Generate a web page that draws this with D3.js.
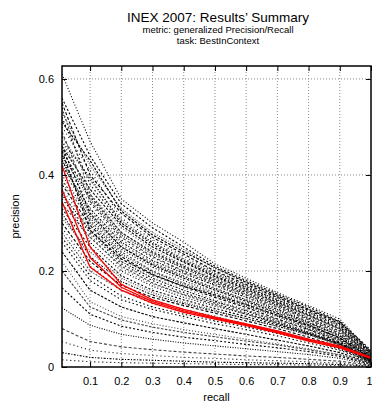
<!DOCTYPE html>
<html>
<head>
<meta charset="utf-8">
<script src="https://cdn.jsdelivr.net/npm/d3@7"></script>
<style>
  html, body { margin: 0; padding: 0; background: #fff; }
  svg { display: block; font-family: "Liberation Sans", Arial, sans-serif; }
</style>
</head>
<body>
<svg id="chart" width="372" height="406"></svg>
<script>
// recall points shared by every run
const recall = [0.01, 0.1, 0.2, 0.3, 0.4, 0.5, 0.6, 0.7, 0.8, 0.9, 1.0];

// submitted runs (precision at each recall point)
const runs = [
  [0.61, 0.47, 0.35, 0.30, 0.26, 0.215, 0.185, 0.155, 0.128, 0.10, 0.03],
  [0.56, 0.44, 0.34, 0.29, 0.25, 0.21, 0.18, 0.152, 0.125, 0.095, 0.035],
  [0.53, 0.42, 0.33, 0.28, 0.245, 0.205, 0.178, 0.15, 0.122, 0.092, 0.03],
  [0.55, 0.40, 0.32, 0.27, 0.235, 0.20, 0.172, 0.145, 0.118, 0.09, 0.028],
  [0.50, 0.41, 0.31, 0.265, 0.23, 0.198, 0.17, 0.143, 0.115, 0.088, 0.03],
  [0.48, 0.39, 0.305, 0.26, 0.225, 0.195, 0.168, 0.14, 0.113, 0.085, 0.025],
  [0.52, 0.38, 0.30, 0.255, 0.22, 0.19, 0.165, 0.138, 0.11, 0.083, 0.027],
  [0.46, 0.37, 0.295, 0.25, 0.218, 0.188, 0.162, 0.135, 0.108, 0.08, 0.022],
  [0.47, 0.36, 0.29, 0.245, 0.212, 0.185, 0.16, 0.132, 0.105, 0.078, 0.02],
  [0.45, 0.355, 0.28, 0.24, 0.21, 0.18, 0.155, 0.13, 0.102, 0.075, 0.024],
  [0.44, 0.35, 0.275, 0.235, 0.205, 0.178, 0.152, 0.128, 0.10, 0.072, 0.02],
  [0.49, 0.345, 0.27, 0.23, 0.20, 0.175, 0.15, 0.125, 0.098, 0.07, 0.022],
  [0.43, 0.34, 0.265, 0.228, 0.198, 0.172, 0.148, 0.122, 0.095, 0.068, 0.018],
  [0.42, 0.33, 0.26, 0.222, 0.195, 0.17, 0.145, 0.12, 0.093, 0.065, 0.02],
  [0.41, 0.325, 0.255, 0.218, 0.19, 0.165, 0.14, 0.115, 0.09, 0.062, 0.017],
  [0.46, 0.32, 0.25, 0.212, 0.185, 0.16, 0.137, 0.112, 0.088, 0.06, 0.018],
  [0.40, 0.31, 0.245, 0.208, 0.18, 0.155, 0.133, 0.11, 0.085, 0.058, 0.015],
  [0.39, 0.305, 0.24, 0.20, 0.175, 0.152, 0.13, 0.107, 0.083, 0.056, 0.016],
  [0.44, 0.30, 0.235, 0.198, 0.172, 0.148, 0.127, 0.105, 0.08, 0.055, 0.014],
  [0.38, 0.295, 0.23, 0.193, 0.168, 0.145, 0.124, 0.10, 0.078, 0.052, 0.015],
  [0.37, 0.29, 0.225, 0.19, 0.165, 0.14, 0.12, 0.098, 0.075, 0.05, 0.012],
  [0.36, 0.285, 0.22, 0.185, 0.16, 0.137, 0.117, 0.095, 0.072, 0.048, 0.014],
  [0.35, 0.28, 0.215, 0.18, 0.155, 0.133, 0.113, 0.092, 0.07, 0.046, 0.012],
  [0.34, 0.27, 0.21, 0.175, 0.15, 0.13, 0.11, 0.09, 0.068, 0.045, 0.01],
  [0.36, 0.26, 0.20, 0.168, 0.145, 0.127, 0.11, 0.092, 0.072, 0.05, 0.014],
  [0.33, 0.25, 0.19, 0.16, 0.14, 0.122, 0.105, 0.088, 0.07, 0.05, 0.015],
  [0.31, 0.24, 0.185, 0.155, 0.135, 0.118, 0.10, 0.085, 0.066, 0.047, 0.013],
  [0.30, 0.22, 0.17, 0.145, 0.128, 0.112, 0.096, 0.08, 0.062, 0.042, 0.012],
  [0.29, 0.21, 0.16, 0.132, 0.115, 0.10, 0.086, 0.072, 0.056, 0.038, 0.01],
  [0.28, 0.20, 0.16, 0.138, 0.12, 0.105, 0.09, 0.075, 0.058, 0.04, 0.01],
  [0.26, 0.18, 0.14, 0.12, 0.105, 0.09, 0.078, 0.065, 0.05, 0.035, 0.01],
  [0.24, 0.16, 0.125, 0.105, 0.092, 0.08, 0.068, 0.056, 0.044, 0.03, 0.008],
  [0.22, 0.136, 0.105, 0.09, 0.078, 0.068, 0.058, 0.048, 0.038, 0.026, 0.008],
  [0.165, 0.11, 0.085, 0.072, 0.062, 0.055, 0.047, 0.04, 0.032, 0.022, 0.006],
  [0.123, 0.087, 0.068, 0.058, 0.05, 0.044, 0.038, 0.032, 0.026, 0.018, 0.005],
  [0.08, 0.053, 0.042, 0.036, 0.031, 0.027, 0.023, 0.02, 0.016, 0.012, 0.004],
  [0.053, 0.035, 0.028, 0.024, 0.02, 0.018, 0.015, 0.013, 0.011, 0.008, 0.003],
  [0.03, 0.02, 0.016, 0.014, 0.012, 0.01, 0.009, 0.008, 0.007, 0.005, 0.002],
  [0.015, 0.011, 0.009, 0.008, 0.007, 0.006, 0.005, 0.005, 0.004, 0.003, 0.001],
  [0.51, 0.43, 0.325, 0.275, 0.24, 0.207, 0.176, 0.148, 0.12, 0.094, 0.032],
  [0.47, 0.395, 0.30, 0.258, 0.222, 0.192, 0.166, 0.14, 0.114, 0.087, 0.026],
  [0.54, 0.36, 0.28, 0.238, 0.207, 0.183, 0.158, 0.133, 0.107, 0.079, 0.023],
  [0.43, 0.315, 0.25, 0.215, 0.188, 0.163, 0.14, 0.117, 0.092, 0.066, 0.019],
  [0.45, 0.285, 0.225, 0.192, 0.168, 0.15, 0.13, 0.108, 0.086, 0.061, 0.017],
  [0.39, 0.275, 0.205, 0.172, 0.152, 0.135, 0.118, 0.098, 0.078, 0.056, 0.016],
  [0.32, 0.23, 0.178, 0.15, 0.132, 0.116, 0.101, 0.085, 0.068, 0.048, 0.014],
  [0.27, 0.19, 0.148, 0.125, 0.11, 0.096, 0.083, 0.07, 0.055, 0.037, 0.011],
  [0.20, 0.125, 0.098, 0.083, 0.072, 0.063, 0.054, 0.046, 0.036, 0.025, 0.007]
];

// highlighted runs (red)
const highlightRuns = [
  [0.42, 0.25, 0.172, 0.14, 0.12, 0.104, 0.09, 0.075, 0.058, 0.044, 0.02],
  [0.37, 0.228, 0.166, 0.136, 0.117, 0.102, 0.088, 0.073, 0.056, 0.042, 0.019],
  [0.344, 0.208, 0.16, 0.133, 0.114, 0.10, 0.086, 0.071, 0.054, 0.04, 0.018]
];

const xTicks = [0.1, 0.2, 0.3, 0.4, 0.5, 0.6, 0.7, 0.8, 0.9, 1.0];
const xTickLabels = ['0.1', '0.2', '0.3', '0.4', '0.5', '0.6', '0.7', '0.8', '0.9', '1'];
const yTicks = [0, 0.2, 0.4, 0.6];
const yTickLabels = ['0', '0.2', '0.4', '0.6'];

const titleLines = ['INEX 2007: Results\u2019 Summary', 'metric: generalized Precision/Recall', 'task: BestInContext'];

// layout
const svg = d3.select('#chart');
const plotLeft = 62, plotRight = 371, plotTop = 66, plotBottom = 367;

const x = d3.scaleLinear().domain([0.01, 1.0]).range([plotLeft, plotRight]);
const y = d3.scaleLinear().domain([0, 0.627]).range([plotBottom, plotTop]);

// dash patterns cycled over the runs (gnuplot-ish line types)
const dashes = ['1,2', '2,2', '1,1.5', '3,2', '1,3', '2,1.5,1,1.5', '1.5,2.5', '2.5,1.5'];

svg.append('defs').append('clipPath')
  .attr('id', 'plot-clip')
  .append('rect')
  .attr('x', plotLeft).attr('y', plotTop)
  .attr('width', plotRight - plotLeft).attr('height', plotBottom - plotTop);

// Grid - gray dotted
const grid = svg.append('g').attr('class', 'grid');
grid.selectAll('line.gx')
  .data(xTicks.filter(t => t < 1))
  .enter()
  .append('line')
  .attr('x1', d => x(d)).attr('x2', d => x(d))
  .attr('y1', plotTop).attr('y2', plotBottom)
  .attr('stroke', '#8a8a8a')
  .attr('stroke-width', 1)
  .attr('stroke-dasharray', '1,2');

grid.selectAll('line.gy')
  .data(yTicks.filter(t => t > 0))
  .enter()
  .append('line')
  .attr('x1', plotLeft).attr('x2', plotRight)
  .attr('y1', d => y(d)).attr('y2', d => y(d))
  .attr('stroke', '#8a8a8a')
  .attr('stroke-width', 1)
  .attr('stroke-dasharray', '1,2');

const line = d3.line()
  .x((d, i) => x(recall[i]))
  .y(d => y(d));

// Black dotted runs
const plot = svg.append('g').attr('clip-path', 'url(#plot-clip)');
plot.append('g')
  .attr('class', 'runs')
  .selectAll('path')
  .data(runs)
  .enter()
  .append('path')
  .attr('d', d => line(d))
  .attr('fill', 'none')
  .attr('stroke', (d, i) => (i % 3 === 2 ? '#444' : '#000'))
  .attr('stroke-width', 1.1)
  .attr('stroke-dasharray', (d, i) => dashes[i % dashes.length]);

// Red runs - solid
plot.append('g')
  .attr('class', 'highlight')
  .selectAll('path')
  .data(highlightRuns)
  .enter()
  .append('path')
  .attr('d', d => line(d))
  .attr('fill', 'none')
  .attr('stroke', '#ff0000')
  .attr('stroke-width', 1.3);

// Frame
svg.append('rect')
  .attr('x', plotLeft).attr('y', plotTop)
  .attr('width', plotRight - plotLeft).attr('height', plotBottom - plotTop)
  .attr('fill', 'none')
  .attr('stroke', '#000')
  .attr('stroke-width', 1.5);

// Axes (ticks inward, mirrored on top/right)
const xAxis = d3.axisBottom(x).tickValues(xTicks).tickSize(-5)
  .tickFormat((d, i) => xTickLabels[i]).tickPadding(10);
const gx = svg.append('g').attr('transform', `translate(0,${plotBottom})`).call(xAxis);
gx.select('.domain').remove();
// last label sits on the window edge; keep it inside
gx.selectAll('.tick text').filter(d => d === 1.0).attr('text-anchor', 'end').attr('dx', 1);

const yAxis = d3.axisLeft(y).tickValues(yTicks).tickSize(-5)
  .tickFormat((d, i) => yTickLabels[i]).tickPadding(8);
const gy = svg.append('g').attr('transform', `translate(${plotLeft},0)`).call(yAxis);
gy.select('.domain').remove();

const gxTop = svg.append('g').attr('transform', `translate(0,${plotTop})`)
  .call(d3.axisTop(x).tickValues(xTicks).tickSize(-5).tickFormat(''));
gxTop.select('.domain').remove();
const gyRight = svg.append('g').attr('transform', `translate(${plotRight},0)`)
  .call(d3.axisRight(y).tickValues(yTicks).tickSize(-5).tickFormat(''));
gyRight.select('.domain').remove();

svg.selectAll('.tick line').attr('stroke', '#000').attr('stroke-width', 1);
svg.selectAll('.tick text')
  .style('font-family', '"Liberation Sans", Arial, sans-serif')
  .style('font-size', '11px')
  .attr('fill', '#000');

// Axis titles
svg.append('text')
  .attr('x', (plotLeft + plotRight) / 2)
  .attr('y', 401)
  .attr('text-anchor', 'middle')
  .style('font-size', '11px')
  .text('recall');

svg.append('text')
  .attr('transform', `translate(19,${(plotTop + plotBottom) / 2}) rotate(-90)`)
  .attr('text-anchor', 'middle')
  .style('font-size', '11px')
  .text('precision');

// Title block
svg.append('text')
  .attr('x', 218).attr('y', 22)
  .attr('text-anchor', 'middle')
  .style('font-size', '13.5px')
  .text(titleLines[0]);
svg.append('text')
  .attr('x', 218).attr('y', 33)
  .attr('text-anchor', 'middle')
  .style('font-size', '9.5px')
  .text(titleLines[1]);
svg.append('text')
  .attr('x', 218).attr('y', 43.5)
  .attr('text-anchor', 'middle')
  .style('font-size', '9.5px')
  .text(titleLines[2]);
</script>
</body>
</html>
